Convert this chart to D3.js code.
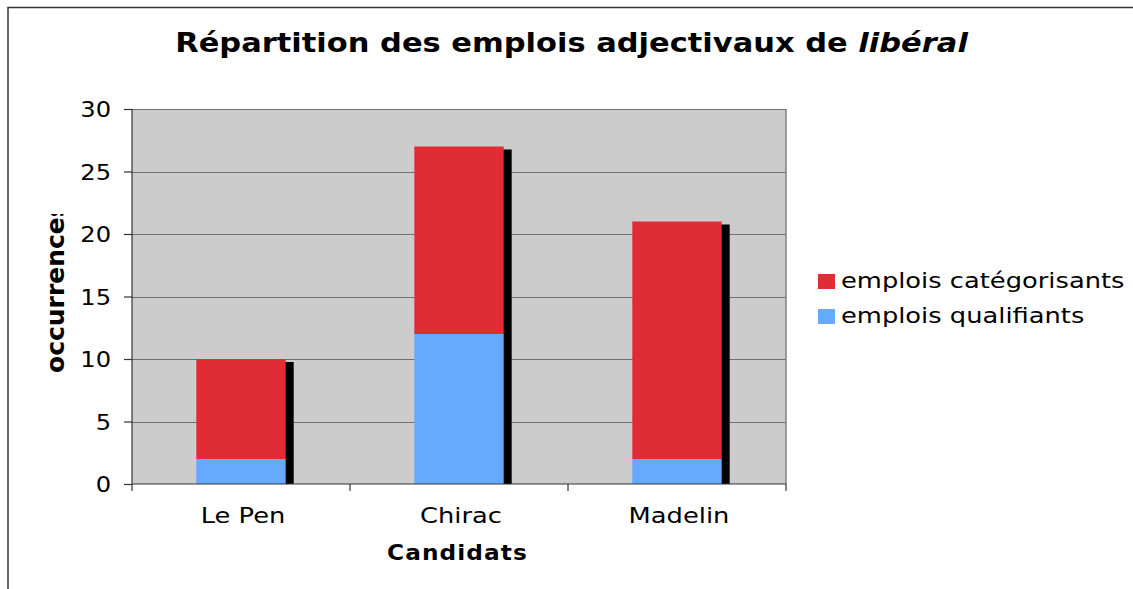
<!DOCTYPE html>
<html><head><meta charset="utf-8">
<script src="https://cdn.jsdelivr.net/npm/d3@7"></script>
<style>body{margin:0;background:#fff}svg{display:block}text{font-family:"DejaVu Sans",Verdana,sans-serif}</style>
</head><body>
<svg id="c" width="1133" height="589"></svg>
<script>
const categories = ["Le Pen", "Chirac", "Madelin"];
const qualifiants = [2, 12, 2];
const categorisants = [8, 15, 19];
const seriesNames = ["emplois qualifiants", "emplois catégorisants"];
const seriesColors = ["#66AAFF", "#E02D35"];
const yTicks = [0, 5, 10, 15, 20, 25, 30];

const SX = 1.17; // horizontal stretch of the reference typography
const svg = d3.select("#c");
const L = 132, R = 786, T = 109, B = 484;

function stretch(sel, ax, sx) {
  sel.attr("transform", `translate(${ax},0) scale(${sx},1) translate(${-ax},0)`);
}
function fitWidth(sel, ax, target) {
  const w = sel.node().getComputedTextLength();
  stretch(sel, ax, target / w);
}

// frame
svg.append("path").attr("d", "M8,589V7.5H1133").attr("fill","none").attr("stroke","#333").attr("stroke-width",1.5);

const x = d3.scaleBand().domain(categories).range([L, R]).paddingInner(0.59).paddingOuter(0.295);
const y = d3.scaleLinear().domain([0, 30]).range([B, T]);

svg.append("rect").attr("x", L).attr("y", T).attr("width", R-L).attr("height", B-T).attr("fill", "#CCCCCC");
svg.append("g").selectAll("line").data(yTicks.filter(d=>d>0)).join("line")
  .attr("x1", L).attr("x2", R).attr("y1", d=>Math.round(y(d))+0.5).attr("y2", d=>Math.round(y(d))+0.5)
  .attr("stroke", "#707070").attr("stroke-width", 1.2);
svg.append("line").attr("x1",R).attr("x2",R).attr("y1",T).attr("y2",B).attr("stroke","#808080").attr("stroke-width",1.5);

const data = categories.map((c,i)=>({c, q: qualifiants[i], k: categorisants[i]}));
const stack = d3.stack().keys(["q","k"])(data);
svg.append("g").selectAll("rect").data(data).join("rect")
  .attr("x", d=>x(d.c)+8).attr("y", d=>y(d.q+d.k)+3)
  .attr("width", x.bandwidth()).attr("height", d=>B - y(d.q+d.k)-3).attr("fill","#000");
stack.forEach((s,si)=>{
  svg.append("g").selectAll("rect").data(s).join("rect")
    .attr("x", d=>x(d.data.c)).attr("y", d=>y(d[1]))
    .attr("width", x.bandwidth()).attr("height", d=>y(d[0])-y(d[1]))
    .attr("fill", seriesColors[si]);
});

// y axis
const ya = svg.append("g").attr("transform", `translate(${L},0)`)
  .call(d3.axisLeft(y).tickValues(yTicks).tickSize(8).tickPadding(13));
ya.select(".domain").remove();
ya.append("line").attr("x1",0).attr("x2",0).attr("y1",T).attr("y2",B).attr("stroke","#333").attr("stroke-width",1.2);
ya.selectAll(".tick line").attr("stroke","#333").attr("stroke-width",1.2);
ya.selectAll(".tick text").attr("font-size", 22).attr("fill","#000").attr("font-family","DejaVu Sans")
  .attr("dy", "0.36em")
  .each(function(){ stretch(d3.select(this), -21, 1.1); });

// x axis
const xa = svg.append("g").attr("transform", `translate(0,${B})`);
xa.append("line").attr("x1",L).attr("x2",R).attr("y1",0).attr("y2",0).attr("stroke","#333").attr("stroke-width",1.2);
const edges = [L, ...categories.map(c=>x(c)+x.bandwidth()+x.step()*x.paddingInner()/2)];
edges[edges.length-1] = R;
xa.selectAll("line.t").data(edges).join("line").attr("class","t")
  .attr("x1",d=>d).attr("x2",d=>d).attr("y1",0).attr("y2",7).attr("stroke","#333").attr("stroke-width",1.2);
xa.selectAll("text").data(categories).join("text")
  .attr("x", d=>x(d)+x.bandwidth()/2+2).attr("y", 39).attr("text-anchor","middle")
  .attr("font-size", 22).text(d=>d)
  .each(function(d){ stretch(d3.select(this), x(d)+x.bandwidth()/2+2, SX); });

// title
const t = svg.append("text").attr("x", 571.5).attr("y", 52).attr("text-anchor","middle")
  .attr("font-size", 26).attr("font-weight","bold");
t.append("tspan").text("Répartition des emplois adjectivaux de ");
t.append("tspan").attr("font-style","italic").text("libéral");
fitWidth(t, 571.5, 793);

const xt = svg.append("text").attr("x", 457.5).attr("y", 560).attr("text-anchor","middle")
  .attr("font-size", 21).attr("font-weight","bold").attr("letter-spacing", 1).text("Candidats");
fitWidth(xt, 457.5, 141);

// y title (clipped like the reference)
svg.append("clipPath").attr("id","yc").append("rect").attr("x",30).attr("y",214).attr("width",60).attr("height",200);
svg.append("g").attr("clip-path","url(#yc)").append("text")
  .attr("transform","translate(64,373) rotate(-90)")
  .attr("font-size", 25).attr("font-weight","bold").attr("text-anchor","start").text("occurrences");

// legend
const order = [1,0];
order.forEach((si,i)=>{
  svg.append("rect").attr("x",818).attr("y",274+i*35).attr("width",17).attr("height",15).attr("fill",seriesColors[si]);
  const tx = svg.append("text").attr("x",841).attr("y",288+i*35).attr("font-size",22).text(seriesNames[si]);
  stretch(tx, 841, SX);
});
</script>
</body></html>
